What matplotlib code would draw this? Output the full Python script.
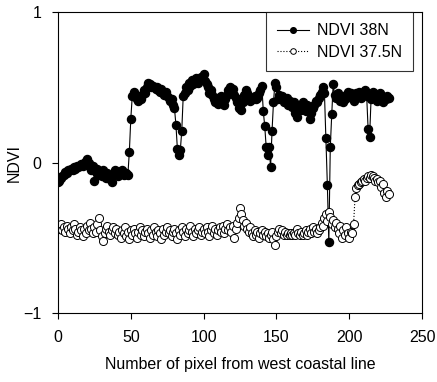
import numpy as np
import matplotlib.pyplot as plt

plt.rcParams['font.family'] = ['Liberation Sans', 'DejaVu Sans']

# NDVI along the 38N transect (one value per pixel)
ndvi_38n = [
    -0.13, -0.12, -0.10, -0.09, -0.08, -0.06, -0.07, -0.05, -0.05, -0.04,
    -0.05, -0.03, -0.04, -0.02, -0.03, -0.02, -0.01, -0.02, 0.00, 0.01,
    0.02, 0.00, -0.03, -0.05, -0.02, -0.12, -0.06, -0.04, -0.08, -0.06,
    -0.09, -0.05, -0.07, -0.10, -0.07, -0.09, -0.11, -0.13, -0.08, -0.05,
    -0.06, -0.09, -0.06, -0.07, -0.05, -0.08, -0.07, -0.07, -0.08, 0.07,
    0.29, 0.44, 0.47, 0.44, 0.42, 0.41, 0.44, 0.42, 0.45, 0.48,
    0.46, 0.50, 0.53, 0.52, 0.50, 0.51, 0.50, 0.49, 0.50, 0.48,
    0.47, 0.49, 0.46, 0.45, 0.47, 0.44, 0.43, 0.41, 0.42, 0.38,
    0.36, 0.25, 0.09, 0.05, 0.08, 0.21, 0.44, 0.46, 0.50, 0.48,
    0.53, 0.51, 0.55, 0.52, 0.54, 0.56, 0.53, 0.55, 0.57, 0.56,
    0.59, 0.54, 0.52, 0.50, 0.46, 0.48, 0.45, 0.42, 0.40, 0.43,
    0.39, 0.41, 0.44, 0.40, 0.38, 0.42, 0.45, 0.48, 0.50, 0.47,
    0.49, 0.45, 0.43, 0.40, 0.36, 0.38, 0.35, 0.40, 0.45, 0.48,
    0.46, 0.42, 0.41, 0.43, 0.42, 0.44, 0.42, 0.43, 0.46, 0.48,
    0.51, 0.34, 0.24, 0.10, 0.05, 0.10, -0.03, 0.21, 0.40, 0.53,
    0.50, 0.42, 0.45, 0.43, 0.44, 0.40, 0.42, 0.43, 0.38, 0.41,
    0.39, 0.37, 0.40, 0.33, 0.30, 0.36, 0.38, 0.35, 0.40, 0.37,
    0.34, 0.38, 0.36, 0.29, 0.33, 0.36, 0.38, 0.41, 0.40, 0.43,
    0.45, 0.47, 0.50, 0.46, 0.16, -0.15, -0.53, 0.10, 0.32, 0.52,
    0.45, 0.43, 0.46, 0.44, 0.41, 0.43, 0.40, 0.42, 0.45, 0.47,
    0.44, 0.46, 0.43, 0.41, 0.44, 0.46, 0.45, 0.47, 0.43, 0.45,
    0.47, 0.48, 0.44, 0.22, 0.17, 0.42, 0.47, 0.45, 0.43, 0.41,
    0.44, 0.46, 0.42, 0.40, 0.43, 0.42, 0.44, 0.43,
]

# NDVI along the 37.5N transect
ndvi_375n = [
    -0.42, -0.44, -0.41, -0.45, -0.43, -0.46, -0.42, -0.44, -0.47, -0.43,
    -0.45, -0.41, -0.44, -0.48, -0.46, -0.43, -0.45, -0.49, -0.44, -0.47,
    -0.42, -0.45, -0.40, -0.44, -0.47, -0.43, -0.46, -0.41, -0.37, -0.45,
    -0.49, -0.52, -0.47, -0.44, -0.42, -0.46, -0.48, -0.45, -0.43, -0.47,
    -0.44, -0.48, -0.46, -0.50, -0.45, -0.47, -0.43, -0.49, -0.46, -0.51,
    -0.45, -0.48, -0.44, -0.47, -0.50, -0.46, -0.43, -0.48, -0.45, -0.49,
    -0.46, -0.44, -0.47, -0.50, -0.45, -0.48, -0.43, -0.46, -0.49, -0.45,
    -0.47, -0.51, -0.44, -0.48, -0.46, -0.43, -0.47, -0.45, -0.49, -0.46,
    -0.44, -0.47, -0.51, -0.45, -0.48, -0.43, -0.46, -0.49, -0.44, -0.47,
    -0.45, -0.42, -0.46, -0.49, -0.44, -0.47, -0.45, -0.43, -0.48, -0.46,
    -0.44, -0.47, -0.43, -0.46, -0.49, -0.45, -0.42, -0.47, -0.44, -0.48,
    -0.45, -0.43, -0.46, -0.42, -0.47, -0.44, -0.41, -0.45, -0.43, -0.46,
    -0.42, -0.50, -0.44, -0.40, -0.37, -0.30, -0.34, -0.38, -0.42, -0.40,
    -0.44, -0.46, -0.43, -0.47, -0.49, -0.45, -0.48, -0.46, -0.50, -0.47,
    -0.45, -0.48, -0.46, -0.49, -0.47, -0.50, -0.48, -0.46, -0.51, -0.55,
    -0.49, -0.46, -0.44, -0.47, -0.45, -0.48, -0.46, -0.48, -0.47, -0.48,
    -0.47, -0.48, -0.47, -0.48, -0.44, -0.47, -0.48, -0.46, -0.48, -0.47,
    -0.45, -0.48, -0.46, -0.44, -0.47, -0.43, -0.46, -0.44, -0.47, -0.45,
    -0.43, -0.40, -0.42, -0.37, -0.34, -0.39, -0.33, -0.36, -0.41, -0.38,
    -0.43, -0.40, -0.44, -0.47, -0.42, -0.50, -0.45, -0.48, -0.43, -0.47,
    -0.50, -0.46, -0.47, -0.41, -0.23, -0.17, -0.15, -0.14, -0.13, -0.12,
    -0.11, -0.12, -0.10, -0.09, -0.10, -0.08, -0.09, -0.10, -0.12, -0.11,
    -0.13, -0.12, -0.16, -0.14, -0.20, -0.23, -0.19, -0.21,
]

pixel = np.arange(len(ndvi_38n))

fig = plt.figure(figsize=(4.37, 3.82), dpi=100)
ax = fig.add_axes([0.1327, 0.1806, 0.833, 0.788])

ax.plot(pixel, ndvi_38n, '-', color='black', lw=0.8, marker='o', ms=5.8,
        mfc='black', mec='black', label='NDVI 38N')
ax.plot(pixel, ndvi_375n, ':', color='black', lw=0.8, marker='o', ms=5.8,
        mfc='white', mec='black', mew=0.7, label='NDVI 37.5N')

ax.set_xlim(0, 250)
ax.set_ylim(-1, 1)
ax.set_xticks([0, 50, 100, 150, 200, 250])
ax.set_yticks([-1, 0, 1])
ax.tick_params(axis='x', direction='out', length=4, width=0.8, labelsize=11.5, pad=8)
ax.tick_params(axis='y', direction='out', length=4, width=0.8, labelsize=11.5, pad=8)
for s in ax.spines.values():
    s.set_linewidth(0.8)

ax.set_xlabel('Number of pixel from west coastal line', fontsize=11.5, labelpad=9)
ax.set_ylabel('NDVI', fontsize=11.5, labelpad=1)

leg = ax.legend(loc='upper right', bbox_to_anchor=(0.975, 1.0), borderaxespad=0,
                fontsize=11.5, frameon=True, fancybox=False, handlelength=2.0,
                handletextpad=0.5, labelspacing=0.4, borderpad=0.7,
                markerscale=0.7)
leg.get_frame().set_edgecolor('black')
leg.get_frame().set_linewidth(0.8)

fig.savefig('out.png', dpi=100)
